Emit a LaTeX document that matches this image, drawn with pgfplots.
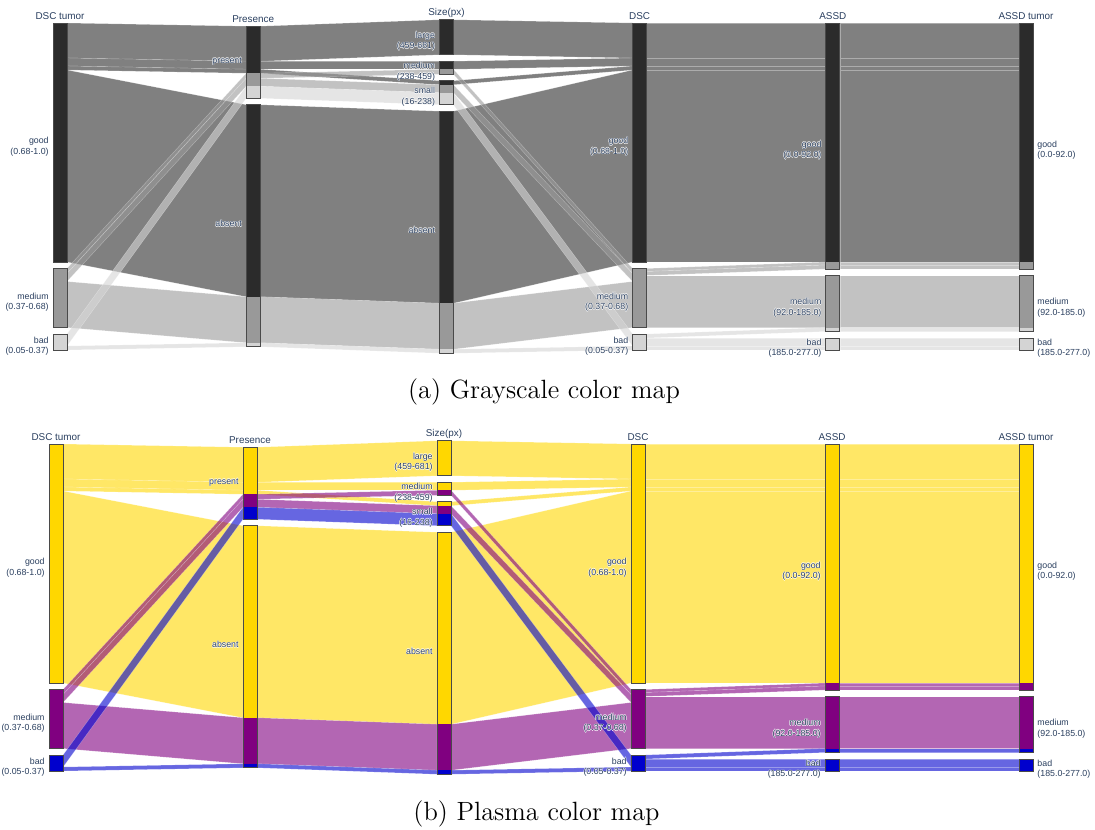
\documentclass[border=0pt]{standalone}
\usepackage{pgfplots}
\pgfplotsset{compat=1.18}
\usepackage{fontspec}
\newfontfamily\plfont{Liberation Sans}
\definecolor{plt}{HTML}{2A3F5F}
\definecolor{bord}{HTML}{4A4A4A}
% grayscale map
\definecolor{gG}{HTML}{2B2B2B}
\definecolor{gM}{HTML}{999999}
\definecolor{gB}{HTML}{D4D4D4}
% plasma map
\definecolor{pG}{HTML}{FFD700}
\definecolor{pM}{HTML}{800080}
\definecolor{pB}{HTML}{0000CD}

\newcommand\hdrf{\plfont\fontsize{4.95}{5.5}\selectfont}
\newcommand\tickf{\plfont\fontsize{4.4}{5}\selectfont}

% column edges (left / right of each category bar)
\def\xla{53}    \def\xra{67}
\def\xlb{246.2} \def\xrb{260.2}
\def\xlc{439.4} \def\xrc{453.4}
\def\xld{632.6} \def\xrd{646.6}
\def\xle{825.8} \def\xre{839.8}
\def\xlf{1019}  \def\xrf{1033}

% ribbon: x-from, x-to, top-from, bottom-from, top-to, bottom-to, colour
\newcommand\rib[7]{\addplot[draw=white, draw opacity=0.35, line width=0.2pt,
  fill=#7, fill opacity=0.6] coordinates {(#1,#3) (#2,#5) (#2,#6) (#1,#4)} -- cycle;}
% bar segment: x-left, x-right, top, bottom, colour
\newcommand\seg[5]{\addplot[draw=none, fill=#5] coordinates {(#1,#3) (#2,#3) (#2,#4) (#1,#4)} -- cycle;}
% category outline
\newcommand\bx[4]{\addplot[draw=bord, line width=0.45pt, fill=none] coordinates {(#1,#3) (#2,#3) (#2,#4) (#1,#4)} -- cycle;}

% white halo round tick labels
\newcommand\hl[1]{\leavevmode
  \rlap{\textcolor{white}{\kern.25pt#1}}\rlap{\textcolor{white}{\kern-.25pt#1}}%
  \rlap{\textcolor{white}{\raisebox{.25pt}{#1}}}\rlap{\textcolor{white}{\raisebox{-.25pt}{#1}}}#1}
\newcommand\lbl[3]{\node[anchor=base east, inner sep=0pt, font=\tickf, text=plt] at (axis cs:#1,#2) {\hl{#3}};}
\newcommand\lblr[3]{\node[anchor=base west, inner sep=0pt, font=\tickf, text=plt] at (axis cs:#1,#2) {\hl{#3}};}
\newcommand\hdr[3]{\node[anchor=base, inner sep=0pt, font=\hdrf, text=plt] at (axis cs:#1,#2) {#3};}

\newcommand\ribbons{%
% tumor-good paths
\rib{\xra}{\xlb}{23}{58}{26.25}{61.25}{cG}
\rib{\xra}{\xlb}{58}{66}{61.25}{69.25}{cG}
\rib{\xra}{\xlb}{66}{70}{69.25}{73.25}{cG}
\rib{\xra}{\xlb}{70}{262}{104.75}{296.75}{cG}
\rib{\xrb}{\xlc}{26.25}{61.25}{19.75}{54.75}{cG}
\rib{\xrb}{\xlc}{61.25}{69.25}{61.25}{69.25}{cG}
\rib{\xrb}{\xlc}{69.25}{73.25}{80.75}{84.75}{cG}
\rib{\xrb}{\xlc}{104.75}{296.75}{111.25}{303.25}{cG}
\rib{\xrc}{\xld}{19.75}{54.75}{23}{58}{cG}
\rib{\xrc}{\xld}{61.25}{69.25}{58}{66}{cG}
\rib{\xrc}{\xld}{80.75}{84.75}{66}{70}{cG}
\rib{\xrc}{\xld}{111.25}{303.25}{70}{262}{cG}
\rib{\xrd}{\xle}{23}{58}{23}{58}{cG}
\rib{\xrd}{\xle}{58}{66}{58}{66}{cG}
\rib{\xrd}{\xle}{66}{70}{66}{70}{cG}
\rib{\xrd}{\xle}{70}{262}{70}{262}{cG}
\rib{\xre}{\xlf}{23}{58}{23}{58}{cG}
\rib{\xre}{\xlf}{58}{66}{58}{66}{cG}
\rib{\xre}{\xlf}{66}{70}{66}{70}{cG}
\rib{\xre}{\xlf}{70}{262}{70}{262}{cG}
% tumor-medium paths
\rib{\xra}{\xlb}{268.5}{273.5}{73.25}{78.25}{cM}
\rib{\xra}{\xlb}{273.5}{281.5}{78.25}{86.25}{cM}
\rib{\xra}{\xlb}{281.5}{327.5}{296.75}{342.75}{cM}
\rib{\xrb}{\xlc}{73.25}{78.25}{69.25}{74.25}{cM}
\rib{\xrb}{\xlc}{78.25}{86.25}{84.75}{92.75}{cM}
\rib{\xrb}{\xlc}{296.75}{342.75}{303.25}{349.25}{cM}
\rib{\xrc}{\xld}{69.25}{74.25}{268.5}{273.5}{cM}
\rib{\xrc}{\xld}{84.75}{92.75}{273.5}{281.5}{cM}
\rib{\xrc}{\xld}{303.25}{349.25}{281.5}{327.5}{cM}
\rib{\xrd}{\xle}{268.5}{271.5}{262}{265}{cM}
\rib{\xrd}{\xle}{271.5}{275.5}{265}{269}{cM}
\rib{\xrd}{\xle}{275.5}{327.5}{275.5}{327.5}{cM}
\rib{\xre}{\xlf}{262}{265}{262}{265}{cM}
\rib{\xre}{\xlf}{265}{269}{265}{269}{cM}
\rib{\xre}{\xlf}{275.5}{327.5}{275.5}{327.5}{cM}
% tumor-bad paths
\rib{\xra}{\xlb}{334}{346}{86.25}{98.25}{cB}
\rib{\xra}{\xlb}{346}{350}{342.75}{346.75}{cB}
\rib{\xrb}{\xlc}{86.25}{98.25}{92.75}{104.75}{cB}
\rib{\xrb}{\xlc}{342.75}{346.75}{349.25}{353.25}{cB}
\rib{\xrc}{\xld}{92.75}{104.75}{334}{346}{cB}
\rib{\xrc}{\xld}{349.25}{353.25}{346}{350}{cB}
\rib{\xrd}{\xle}{334}{338}{327.5}{331.5}{cB}
\rib{\xrd}{\xle}{338}{346}{338}{346}{cB}
\rib{\xrd}{\xle}{346}{350}{346}{350}{cB}
\rib{\xre}{\xlf}{327.5}{331.5}{327.5}{331.5}{cB}
\rib{\xre}{\xlf}{338}{346}{338}{346}{cB}
\rib{\xre}{\xlf}{346}{350}{346}{350}{cB}
}

\newcommand\bars{%
% DSC tumor
\seg{\xla}{\xra}{23}{262}{cG}\seg{\xla}{\xra}{268.5}{327.5}{cM}\seg{\xla}{\xra}{334}{350}{cB}
\bx{\xla}{\xra}{23}{262}\bx{\xla}{\xra}{268.5}{327.5}\bx{\xla}{\xra}{334}{350}
% Presence
\seg{\xlb}{\xrb}{26.25}{73.25}{cG}\seg{\xlb}{\xrb}{73.25}{86.25}{cM}\seg{\xlb}{\xrb}{86.25}{98.25}{cB}
\seg{\xlb}{\xrb}{104.75}{296.75}{cG}\seg{\xlb}{\xrb}{296.75}{342.75}{cM}\seg{\xlb}{\xrb}{342.75}{346.75}{cB}
\bx{\xlb}{\xrb}{26.25}{98.25}\bx{\xlb}{\xrb}{104.75}{346.75}
% Size(px)
\seg{\xlc}{\xrc}{19.75}{54.75}{cG}
\seg{\xlc}{\xrc}{61.25}{69.25}{cG}\seg{\xlc}{\xrc}{69.25}{74.25}{cM}
\seg{\xlc}{\xrc}{80.75}{84.75}{cG}\seg{\xlc}{\xrc}{84.75}{92.75}{cM}\seg{\xlc}{\xrc}{92.75}{104.75}{cB}
\seg{\xlc}{\xrc}{111.25}{303.25}{cG}\seg{\xlc}{\xrc}{303.25}{349.25}{cM}\seg{\xlc}{\xrc}{349.25}{353.25}{cB}
\bx{\xlc}{\xrc}{19.75}{54.75}\bx{\xlc}{\xrc}{61.25}{74.25}\bx{\xlc}{\xrc}{80.75}{104.75}\bx{\xlc}{\xrc}{111.25}{353.25}
% DSC
\seg{\xld}{\xrd}{23}{262}{cG}\seg{\xld}{\xrd}{268.5}{327.5}{cM}\seg{\xld}{\xrd}{334}{350}{cB}
\bx{\xld}{\xrd}{23}{262}\bx{\xld}{\xrd}{268.5}{327.5}\bx{\xld}{\xrd}{334}{350}
% ASSD
\seg{\xle}{\xre}{23}{262}{cG}\seg{\xle}{\xre}{262}{269}{cM}
\seg{\xle}{\xre}{275.5}{327.5}{cM}\seg{\xle}{\xre}{327.5}{331.5}{cB}\seg{\xle}{\xre}{338}{350}{cB}
\bx{\xle}{\xre}{23}{269}\bx{\xle}{\xre}{275.5}{331.5}\bx{\xle}{\xre}{338}{350}
% ASSD tumor
\seg{\xlf}{\xrf}{23}{262}{cG}\seg{\xlf}{\xrf}{262}{269}{cM}
\seg{\xlf}{\xrf}{275.5}{327.5}{cM}\seg{\xlf}{\xrf}{327.5}{331.5}{cB}\seg{\xlf}{\xrf}{338}{350}{cB}
\bx{\xlf}{\xrf}{23}{269}\bx{\xlf}{\xrf}{275.5}{331.5}\bx{\xlf}{\xrf}{338}{350}
}

\newcommand\labels{%
\hdr{60}{19}{DSC tumor}
\hdr{253.2}{22.25}{Presence}
\hdr{446.4}{15.75}{Size(px)}
\hdr{639.6}{19}{DSC}
\hdr{832.8}{19}{ASSD}
\hdr{1026}{19}{ASSD tumor}
\lbl{49}{143.5}{good}\lbl{49}{154}{(0.68-1.0)}
\lbl{49}{299}{medium}\lbl{49}{309.5}{(0.37-0.68)}
\lbl{49}{343}{bad}\lbl{49}{353.5}{(0.05-0.37)}
\lbl{242.2}{63.25}{present}
\lbl{242.2}{226.75}{absent}
\lbl{435.4}{38.25}{large}\lbl{435.4}{48.75}{(459-681)}
\lbl{435.4}{68.75}{medium}\lbl{435.4}{79.25}{(238-459)}
\lbl{435.4}{93.75}{small}\lbl{435.4}{104.25}{(16-238)}
\lbl{435.4}{233.25}{absent}
\lbl{628.6}{143.5}{good}\lbl{628.6}{154}{(0.68-1.0)}
\lbl{628.6}{299}{medium}\lbl{628.6}{309.5}{(0.37-0.68)}
\lbl{628.6}{343}{bad}\lbl{628.6}{353.5}{(0.05-0.37)}
\lbl{821.8}{147}{good}\lbl{821.8}{157.5}{(0.0-92.0)}
\lbl{821.8}{304.5}{medium}\lbl{821.8}{315}{(92.0-185.0)}
\lbl{821.8}{345}{bad}\lbl{821.8}{355.5}{(185.0-277.0)}
\lblr{1037}{147}{good}\lblr{1037}{157.5}{(0.0-92.0)}
\lblr{1037}{304.5}{medium}\lblr{1037}{315}{(92.0-185.0)}
\lblr{1037}{345}{bad}\lblr{1037}{355.5}{(185.0-277.0)}
}

\pgfplotsset{pc/.style={scale only axis, width=547.5pt, height=190pt,
  ymin=0, ymax=380, y dir=reverse, hide axis, clip=false, anchor=north west}}

\begin{document}
\begin{tikzpicture}
\path[use as bounding box] (0pt,0pt) rectangle (547.5pt,-414.5pt);
% (a) grayscale
\colorlet{cG}{gG}\colorlet{cM}{gM}\colorlet{cB}{gB}
\begin{axis}[pc, at={(0pt,0pt)}, xmin=0, xmax=1095]
\ribbons
\bars
\labels
\end{axis}
\node[anchor=base, font=\fontsize{13.2}{15}\selectfont] at (272pt,-199.2pt) {(a) Grayscale color map};
% (b) plasma
\colorlet{cG}{pG}\colorlet{cM}{pM}\colorlet{cB}{pB}
\begin{axis}[pc, at={(0pt,-210.5pt)}, xmin=4.2, xmax=1094.7]
\ribbons
\bars
\labels
\end{axis}
\node[anchor=base, font=\fontsize{13.2}{15}\selectfont] at (268.25pt,-410pt) {(b) Plasma color map};
\end{tikzpicture}
\end{document}
